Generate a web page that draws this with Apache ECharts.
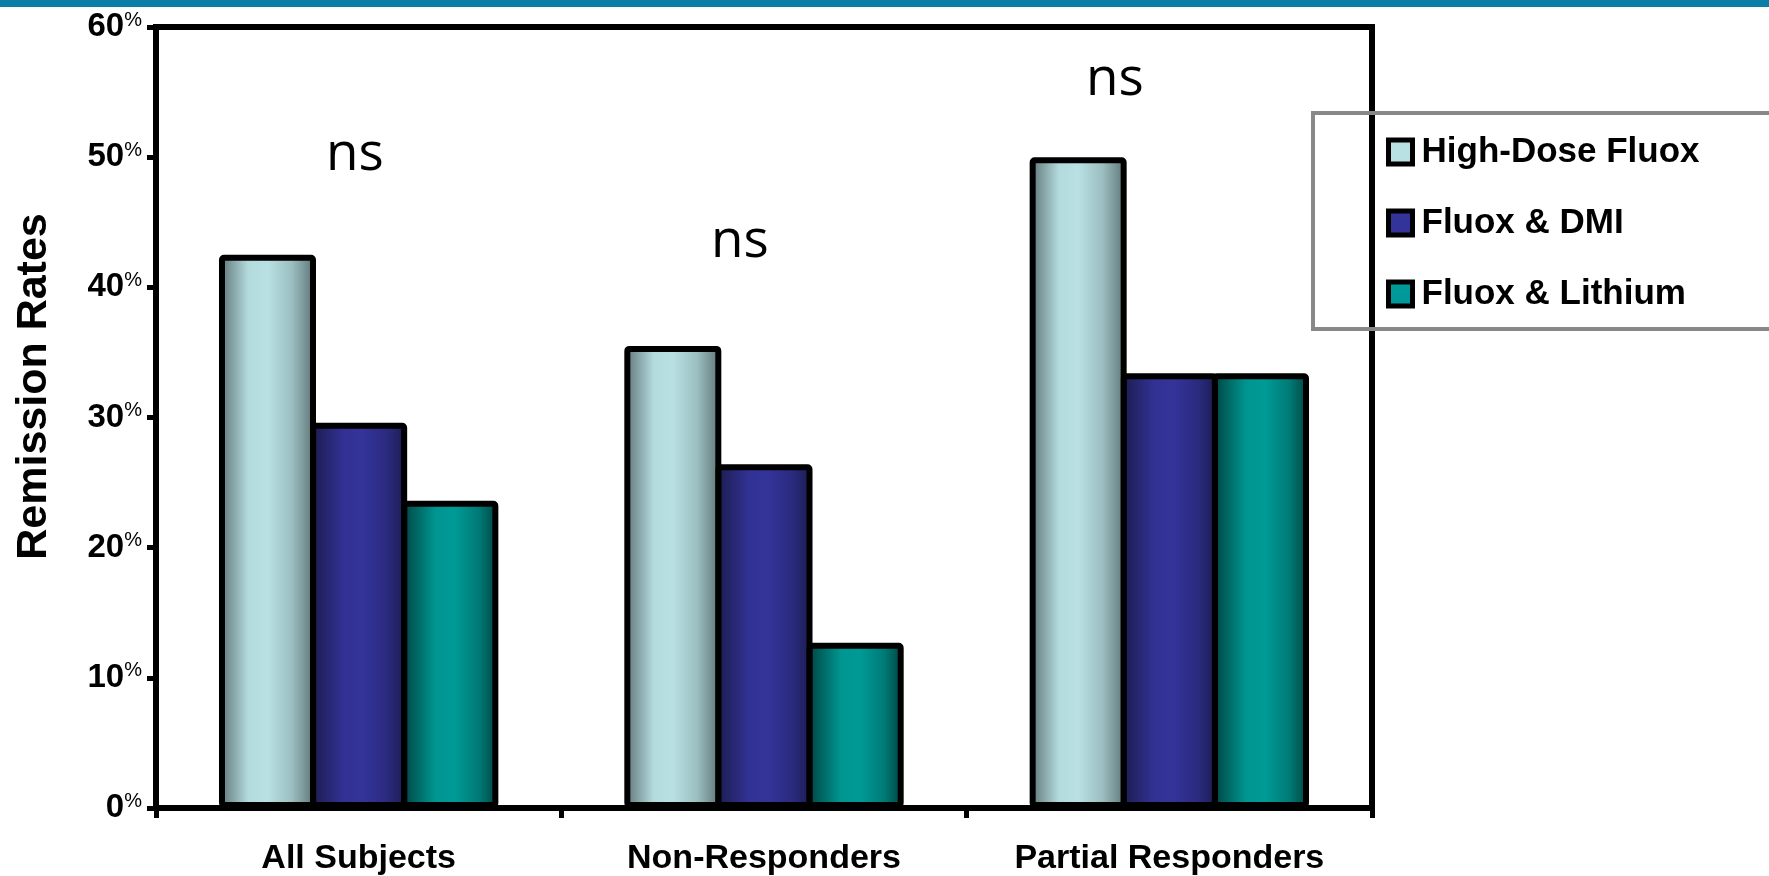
<!DOCTYPE html>
<html>
<head>
<meta charset="utf-8">
<script src="https://cdn.jsdelivr.net/npm/echarts@6/dist/echarts.min.js"></script>
<style>
html,body{margin:0;padding:0;background:#fff;}
#chart{width:1769px;height:876px;}
</style>
</head>
<body>
<div id="chart"></div>
<script>
// ---- data ----
const categories = ['All Subjects', 'Non-Responders', 'Partial Responders'];
const seriesNames = ['High-Dose Fluox', 'Fluox & DMI', 'Fluox & Lithium'];
const highDoseFluox = [42.5, 35.5, 50.0];
const fluoxDMI = [29.6, 26.4, 33.4];
const fluoxLithium = [23.6, 12.7, 33.4];
const yTicks = [0, 10, 20, 30, 40, 50, 60];
const annotations = ['ns', 'ns', 'ns'];
const yTitle = 'Remission Rates';

// ---- styles ----
function grad(stops) {
  return {type: 'linear', x: 0, y: 0, x2: 1, y2: 0,
    colorStops: stops.map(s => ({offset: s[0], color: s[1]}))};
}
const fills = [
  grad([[0, '#5b7072'], [0.3, '#b3dadd'], [0.5, '#b9e0e3'], [0.75, '#9cbfc1'], [1, '#5b7072']]),
  grad([[0, '#1b1b4d'], [0.35, '#323295'], [0.55, '#333399'], [0.8, '#2a2a7e'], [1, '#1b1b4d']]),
  grad([[0, '#00403e'], [0.35, '#009590'], [0.55, '#009a96'], [0.8, '#007a76'], [1, '#00403e']])
];
const flatColors = ['#b9e0e3', '#333399', '#009999'];
const values = [highDoseFluox, fluoxDMI, fluoxLithium];

const chart = echarts.init(document.getElementById('chart'), null, {renderer: 'canvas'});

const series = seriesNames.map((name, i) => ({
  name: name,
  type: 'bar',
  data: values[i],
  barWidth: 97,
  barGap: '-6%',
  itemStyle: {color: fills[i], borderColor: '#000', borderWidth: 6, borderRadius: 2},
  emphasis: {disabled: true}
}));

const option = {
  animation: false,
  backgroundColor: '#fff',
  grid: {show: true, left: 156, right: 397, top: 27, bottom: 67,
    borderColor: '#000', borderWidth: 6, backgroundColor: 'transparent'},
  legend: {
    orient: 'vertical', left: 1313, top: 113,
    padding: [21, 100, 17, 73],
    borderColor: '#888', borderWidth: 4,
    itemWidth: 24, itemHeight: 24, itemGap: 35,
    icon: 'rect',
    textStyle: {fontFamily: 'Liberation Sans', fontSize: 35, fontWeight: 'bold', color: '#000', lineHeight: 36, padding: [0, 0, 0, 4]},
    data: seriesNames.map((n, i) => ({name: n, itemStyle: {color: flatColors[i], borderColor: '#000', borderWidth: 5}}))
  },
  xAxis: {
    type: 'category', data: categories,
    axisLine: {lineStyle: {color: '#000', width: 6}},
    axisTick: {show: true, alignWithLabel: false, interval: 0, length: 10, lineStyle: {color: '#000', width: 5}},
    axisLabel: {margin: 34, fontFamily: 'Liberation Sans', fontSize: 34, fontWeight: 'bold', color: '#000', interval: 0},
    splitLine: {show: false}
  },
  yAxis: {
    type: 'value', min: yTicks[0], max: yTicks[yTicks.length - 1], interval: 10,
    name: yTitle, nameLocation: 'middle', nameRotate: 90, nameGap: 100,
    nameTextStyle: {fontFamily: 'Liberation Sans', fontSize: 43, fontWeight: 'bold', color: '#000', padding: [0, 0, 0, 62]},
    axisLine: {show: true, lineStyle: {color: '#000', width: 6}},
    axisTick: {show: true, length: 9, lineStyle: {color: '#000', width: 5}},
    splitLine: {show: false},
    axisLabel: {
      margin: 14,
      formatter: v => '{a|' + v + '}{b|%}',
      rich: {
        a: {fontFamily: 'Liberation Sans', fontSize: 33, fontWeight: 'bold', color: '#000', lineHeight: 34},
        b: {fontFamily: 'Liberation Sans', fontSize: 20, color: '#000', verticalAlign: 'top', lineHeight: 20}
      }
    }
  },
  graphic: [
    {type: 'rect', left: 0, top: 0, shape: {width: 1769, height: 7}, style: {fill: '#0a7ea6'}, silent: true},
    {type: 'text', x: 355, y: 155, style: {text: annotations[0], font: '53px "Open Sans"', fill: '#000', textAlign: 'center', textVerticalAlign: 'middle'}},
    {type: 'text', x: 740, y: 242, style: {text: annotations[1], font: '53px "Open Sans"', fill: '#000', textAlign: 'center', textVerticalAlign: 'middle'}},
    {type: 'text', x: 1115, y: 80, style: {text: annotations[2], font: '53px "Open Sans"', fill: '#000', textAlign: 'center', textVerticalAlign: 'middle'}}
  ],
  series: series
};
chart.setOption(option);
</script>
</body>
</html>
